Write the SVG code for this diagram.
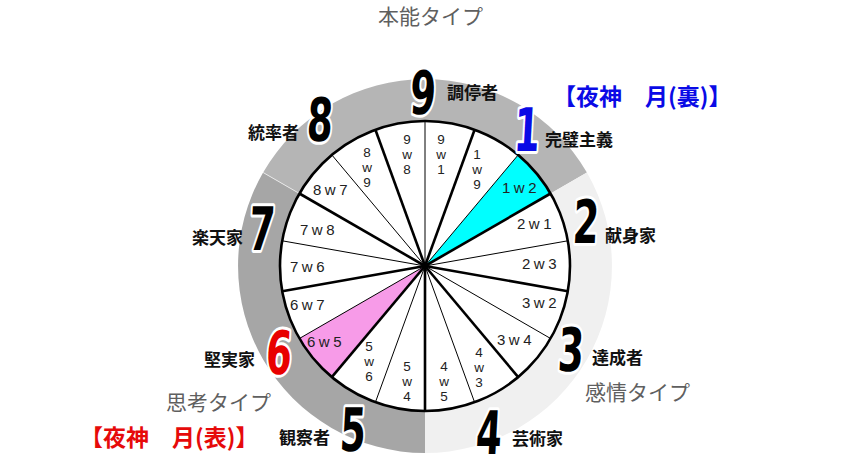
<svg xmlns="http://www.w3.org/2000/svg" width="852" height="467" viewBox="0 0 852 467">
<style>
.big{font-family:"DejaVu Sans","Liberation Sans",sans-serif;font-weight:bold;font-size:60px;text-anchor:middle;stroke:#fff;stroke-width:6px;paint-order:stroke;stroke-linejoin:round}
.lbl{font-family:"Noto Sans CJK JP",sans-serif;font-weight:bold;font-size:17px;fill:#111}
.cat{font-family:"Noto Sans CJK JP",sans-serif;font-size:21px;fill:#5f5f5f}
.name{font-family:"Noto Sans CJK JP",sans-serif;font-weight:bold;font-size:23px}
.w{font-family:"Liberation Sans",Arial,sans-serif;font-size:15px;fill:#222;letter-spacing:3.5px}
.s{font-family:"Liberation Sans",Arial,sans-serif;font-size:13.5px;fill:#222;text-anchor:middle}
.thick{stroke:#000;stroke-width:2.6;fill:none}
.thin{stroke:#000;stroke-width:1;fill:none}
</style>
<rect width="852" height="467" fill="#fff"/>
<g id="ring">
<path d="M263.1,172.5 A187,187 0 0,1 586.9,172.5 L550.6,193.5 A145,145 0 0,0 299.4,193.5 Z" fill="#b5b5b5"/>
<path d="M586.9,172.5 A187,187 0 0,1 425,453 L425,411 A145,145 0 0,0 550.6,193.5 Z" fill="#f0f0f0"/>
<path d="M425,453 A187,187 0 0,1 263.1,172.5 L299.4,193.5 A145,145 0 0,0 425,411 Z" fill="#a6a6a6"/>
<line x1="263.1" y1="172.5" x2="299.4" y2="193.5" stroke="#e8e8e8" stroke-width="1"/>
</g>
<g id="wheel">
<circle cx="425" cy="266" r="145" fill="#fff"/>
<path d="M425,266 L518.2,154.9 A145,145 0 0,1 550.6,193.5 Z" fill="#00ffff"/>
<path d="M425,266 L331.8,377.1 A145,145 0 0,1 299.4,338.5 Z" fill="#f79be8"/>
</g>
<g id="connectors">
<line class="thin" x1="425" y1="266" x2="425" y2="121"/>
<line class="thick" x1="425" y1="266" x2="474.6" y2="129.7"/>
<line class="thin" x1="425" y1="266" x2="518.2" y2="154.9"/>
<line class="thick" x1="425" y1="266" x2="550.6" y2="193.5"/>
<line class="thin" x1="425" y1="266" x2="567.8" y2="240.8"/>
<line class="thick" x1="425" y1="266" x2="567.8" y2="291.2"/>
<line class="thin" x1="425" y1="266" x2="550.6" y2="338.5"/>
<line class="thick" x1="425" y1="266" x2="518.2" y2="377.1"/>
<line class="thin" x1="425" y1="266" x2="474.6" y2="402.3"/>
<line class="thick" x1="425" y1="266" x2="425" y2="411"/>
<line class="thin" x1="425" y1="266" x2="375.4" y2="402.3"/>
<line class="thick" x1="425" y1="266" x2="331.8" y2="377.1"/>
<line class="thin" x1="425" y1="266" x2="299.4" y2="338.5"/>
<line class="thick" x1="425" y1="266" x2="282.2" y2="291.2"/>
<line class="thin" x1="425" y1="266" x2="282.2" y2="240.8"/>
<line class="thick" x1="425" y1="266" x2="299.4" y2="193.5"/>
<line class="thin" x1="425" y1="266" x2="331.8" y2="154.9"/>
<line class="thick" x1="425" y1="266" x2="375.4" y2="129.7"/>
<circle cx="425" cy="266" r="145" class="thick"/>
<circle cx="425" cy="266" r="3" fill="#000"/>
</g>
<g id="wings">
<text class="s" x="407" y="144">9</text><text class="s" x="407" y="159">w</text><text class="s" x="407" y="174">8</text>
<text class="s" x="441" y="144">9</text><text class="s" x="441" y="159">w</text><text class="s" x="441" y="174">1</text>
<text class="s" x="367" y="157">8</text><text class="s" x="367" y="172">w</text><text class="s" x="367" y="187">9</text>
<text class="s" x="477" y="159">1</text><text class="s" x="477" y="174">w</text><text class="s" x="477" y="189">9</text>
<text class="s" x="369" y="351">5</text><text class="s" x="369" y="366">w</text><text class="s" x="369" y="381">6</text>
<text class="s" x="407" y="371">5</text><text class="s" x="407" y="386">w</text><text class="s" x="407" y="401">4</text>
<text class="s" x="444" y="371">4</text><text class="s" x="444" y="386">w</text><text class="s" x="444" y="401">5</text>
<text class="s" x="479" y="357">4</text><text class="s" x="479" y="372">w</text><text class="s" x="479" y="387">3</text>
<text class="w" x="313" y="195">8w7</text>
<text class="w" x="502" y="193">1w2</text>
<text class="w" x="300" y="235">7w8</text>
<text class="w" x="290" y="272">7w6</text>
<text class="w" x="290" y="310">6w7</text>
<text class="w" x="307" y="347">6w5</text>
<text class="w" x="497" y="345">3w4</text>
<text class="w" x="522" y="308">3w2</text>
<text class="w" x="522" y="269">2w3</text>
<text class="w" x="517" y="229">2w1</text>
</g>
<g id="type9"><text class="big" transform="translate(422,114) scale(0.62,1) skewX(-5)" fill="#000">9</text><text class="lbl" x="447" y="99">調停者</text></g>
<g id="type8"><text class="big" transform="translate(319,141) scale(0.62,1) skewX(-5)" fill="#000">8</text><text class="lbl" x="248" y="139">統率者</text></g>
<g id="type1"><text class="big" transform="translate(526,151) scale(0.62,1) skewX(-5)" fill="#0a0ae6">1</text><text class="lbl" x="545" y="146">完璧主義</text></g>
<g id="type2"><text class="big" transform="translate(585,243) scale(0.62,1) skewX(-5)" fill="#000">2</text><text class="lbl" x="605" y="242">献身家</text></g>
<g id="type3"><text class="big" transform="translate(570,371) scale(0.62,1) skewX(-5)" fill="#000">3</text><text class="lbl" x="592" y="364">達成者</text></g>
<g id="type4"><text class="big" transform="translate(488,454) scale(0.62,1) skewX(-5)" fill="#000">4</text><text class="lbl" x="512" y="445">芸術家</text></g>
<g id="type5"><text class="big" transform="translate(352,451) scale(0.62,1) skewX(-5)" fill="#000">5</text><text class="lbl" x="279" y="444">観察者</text></g>
<g id="type6"><text class="big" transform="translate(278,374) scale(0.62,1) skewX(-5)" fill="#e80000">6</text><text class="lbl" x="204" y="366">堅実家</text></g>
<g id="type7"><text class="big" transform="translate(261,250) scale(0.62,1) skewX(-5)" fill="#000">7</text><text class="lbl" x="192" y="244">楽天家</text></g>
<g id="categories">
<text class="cat" x="378" y="24">本能タイプ</text>
<text class="cat" x="585" y="400">感情タイプ</text>
<text class="cat" x="166" y="410">思考タイプ</text>
</g>
<g id="names">
<text class="name" x="553" y="105" fill="#0a0ae6">【夜神　月(裏)】</text>
<text class="name" x="80" y="446" fill="#e60a0a">【夜神　月(表)】</text>
</g>
</svg>
